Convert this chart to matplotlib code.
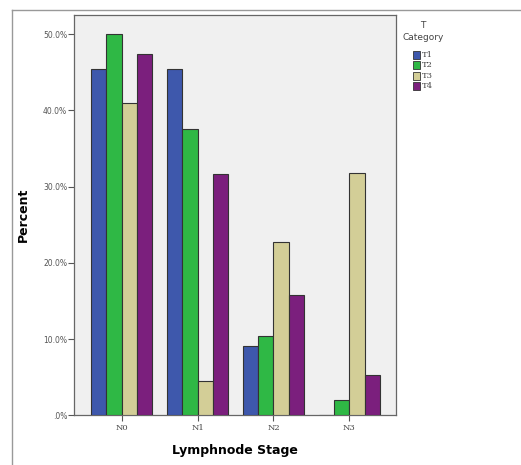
import matplotlib
matplotlib.use("Agg")
import matplotlib.pyplot as plt
import numpy as np
from matplotlib.lines import Line2D

categories = ["N0", "N1", "N2", "N3"]
series_names = ["T1", "T2", "T3", "T4"]
t1 = [45.4, 45.4, 9.1, 0.0]
t2 = [50.0, 37.5, 10.4, 2.0]
t3 = [40.9, 4.5, 22.7, 31.8]
t4 = [47.4, 31.6, 15.8, 5.3]
yticks = [0, 10, 20, 30, 40, 50]
ytick_labels = [".0%", "10.0%", "20.0%", "30.0%", "40.0%", "50.0%"]
colors = ["#3e58ac", "#2fb845", "#d3ce97", "#7b1f7d"]

fig = plt.figure(figsize=(5.21, 4.65), dpi=100)
ax = fig.add_axes([74/521, 1-415.3/465, (396-74)/521, (415.3-15)/465])
ax.set_facecolor("#f0f0f0")

x = np.arange(len(categories))
w = 0.2
for i, (vals, c) in enumerate(zip([t1, t2, t3, t4], colors)):
    ax.bar(x + (i - 1.5) * w, vals, width=w, color=c, edgecolor="#333333", linewidth=0.8, zorder=3)

ax.set_xlim(-0.628, 3.614)
ax.set_ylim(0, 52.5)
ax.set_yticks(yticks)
ax.set_yticklabels(ytick_labels, fontsize=5.5, color="#555555")
ax.set_xticks(x)
ax.set_xticklabels(categories, fontsize=6, family="DejaVu Serif", color="#444444")
ax.tick_params(axis="y", length=4, width=0.8, color="#555555", pad=1)
ax.tick_params(axis="x", length=4, width=0.8, color="#555555", pad=2)
for s in ax.spines.values():
    s.set_color("#666666")
    s.set_linewidth(0.9)

ax.set_ylabel("Percent", fontsize=9, fontweight="bold")
ax.yaxis.set_label_coords(-0.137, 0.5)
ax.set_xlabel("Lymphnode Stage", fontsize=9, fontweight="bold", labelpad=9)

# outer frame lines
fig.add_artist(Line2D([12/521, 12/521], [0, 1-10/465], color="#999999", lw=1.0))
fig.add_artist(Line2D([12/521, 1], [1-10/465, 1-10/465], color="#999999", lw=1.0))

# legend
fig.text(423/521, 1-25/465, "T", fontsize=6.5, ha="center", va="center", color="#444444")
fig.text(423/521, 1-37/465, "Category", fontsize=6.5, ha="center", va="center", color="#444444")
for i, (name, c) in enumerate(zip(series_names, colors)):
    yc = 1 - (55 + i * 10.3) / 465
    fig.add_artist(plt.Rectangle((413/521, yc - 4/465), 7/521, 8/465, transform=fig.transFigure,
                                 facecolor=c, edgecolor="#333333", lw=0.6))
    fig.text(422/521, yc, name, fontsize=6, family="DejaVu Serif", va="center", color="#444444")

fig.savefig("out.png", dpi=100)
